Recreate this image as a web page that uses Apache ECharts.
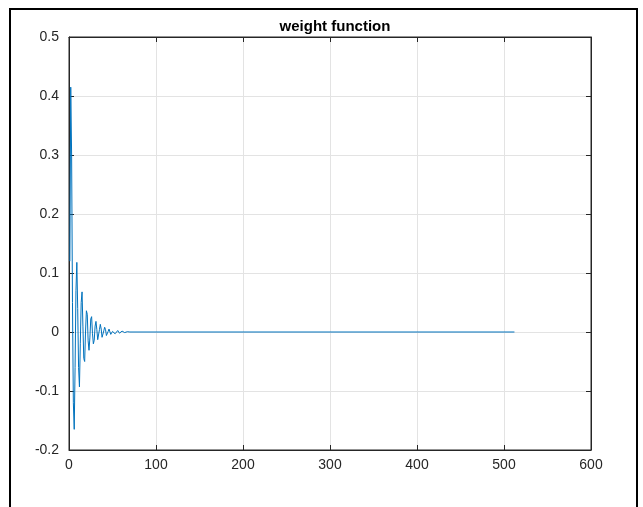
<!DOCTYPE html>
<html><head><meta charset="utf-8">
<script src="https://cdn.jsdelivr.net/npm/echarts@6/dist/echarts.min.js"></script>
<style>html,body{margin:0;padding:0;background:#fff}#c{width:643px;height:507px}</style>
</head><body><div id="c"></div>
<script>
var titleText = 'weight function';
var xTicks = [0, 100, 200, 300, 400, 500, 600];
var yTicks = [-0.2, -0.1, 0, 0.1, 0.2, 0.3, 0.4, 0.5];
// sample index (MATLAB-style, starting at 1); after the ringing dies out the curve stays at 0 up to 512
var sampleX = [1,2,3,4,5,6,7,8,9,10,11,12,13,14,15,16,17,18,19,20,21,22,23,24,25,26,27,28,29,30,
  31,32,33,34,35,36,37,38,39,40,41,42,43,44,45,46,47,48,49,50,51,52,53,54,55,56,57,58,59,60,
  61,62,63,64,65,66,67,68,69,70,71,72,512];
var weight = [0.12,0.415,0.30,0.05,-0.12,-0.165,-0.06,0.07,0.118,0.04,-0.06,-0.093,-0.02,0.05,0.068,0.01,-0.045,-0.05,0.0,0.036,
  0.03,-0.015,-0.031,-0.01,0.022,0.026,-0.003,-0.02,-0.014,0.01,
  0.018,0.004,-0.013,-0.011,0.004,0.013,0.005,-0.009,-0.009,0.002,
  0.008,0.004,-0.006,-0.006,0.001,0.005,0.003,-0.004,-0.004,0.001,
  0.004,0.002,-0.003,-0.003,0.0,0.0025,0.0015,-0.002,-0.002,0.0005,
  0.0015,0.001,-0.001,-0.001,0,0.001,0.0005,-0.0005,-0.0005,0,0.0003,0,0];

var pts = sampleX.map(function(x,i){return [x, weight[i]];});
var axCol = '#262626';
var font = 'Liberation Sans, Arial, sans-serif';
var chart = echarts.init(document.getElementById('c'));
chart.setOption({
  animation:false,
  backgroundColor:'#fff',
  title:{text:titleText,left:330,top:14,textAlign:'center',
    textStyle:{fontFamily:font,fontSize:15,fontWeight:'bold',color:'#000'}},
  grid:{left:69,right:52,top:37,bottom:57,show:true,borderColor:axCol,borderWidth:1,backgroundColor:'#fff'},
  xAxis:[{type:'value',min:xTicks[0],max:xTicks[xTicks.length-1],interval:100,
    axisLine:{show:true,onZero:false,lineStyle:{color:axCol,width:1}},
    axisTick:{show:true,inside:true,length:5,lineStyle:{color:axCol}},
    axisLabel:{color:axCol,fontSize:14,fontFamily:font,margin:8},
    splitLine:{show:true,lineStyle:{color:'#e3e3e3',width:1}}},
    {type:'value',position:'top',min:0,max:600,interval:100,
    axisLine:{show:true,onZero:false,lineStyle:{color:axCol}},
    axisTick:{show:true,inside:true,length:5,lineStyle:{color:axCol}},
    axisLabel:{show:false},splitLine:{show:false}}],
  yAxis:[{type:'value',min:yTicks[0],max:yTicks[yTicks.length-1],interval:0.1,
    axisLine:{show:true,onZero:false,lineStyle:{color:axCol,width:1}},
    axisTick:{show:true,inside:true,length:5,lineStyle:{color:axCol}},
    axisLabel:{color:axCol,fontSize:14,fontFamily:font,margin:10,
      formatter:function(v){return (Math.round(v*10)/10).toString();}},
    splitLine:{show:true,lineStyle:{color:'#e3e3e3',width:1}}},
    {type:'value',position:'right',min:-0.2,max:0.5,interval:0.1,
    axisLine:{show:true,onZero:false,lineStyle:{color:axCol}},
    axisTick:{show:true,inside:true,length:5,lineStyle:{color:axCol}},
    axisLabel:{show:false},splitLine:{show:false}}],
  series:[{type:'line',data:pts,showSymbol:false,symbol:'none',
    lineStyle:{color:'#0072BD',width:1},xAxisIndex:0,yAxisIndex:0}],
  graphic:[{type:'rect',shape:{x:10,y:9,width:627,height:520},
    style:{fill:null,stroke:'#000',lineWidth:2},silent:true,z:100}]
});
</script></body></html>
